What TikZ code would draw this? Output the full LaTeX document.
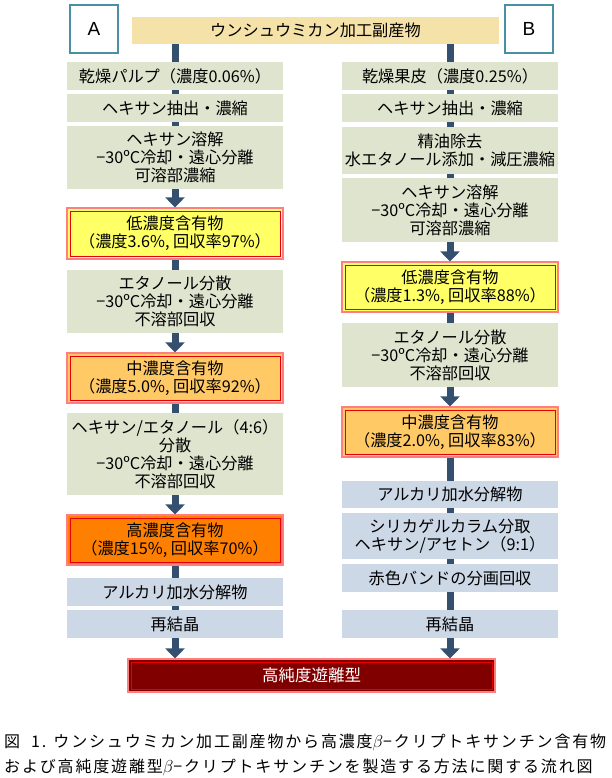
\documentclass[tikz,border=0pt]{standalone}
\usepackage{fontspec}
\newfontfamily\jp{Noto Sans CJK JP}
\newfontfamily\jpcap[LetterSpace=11.5]{Noto Sans CJK JP}
\newfontfamily\lab{Liberation Sans}
\usetikzlibrary{arrows.meta}
\definecolor{gcol}{HTML}{DFE4CF}
\definecolor{bcol}{HTML}{CDD8E7}
\definecolor{tcol}{HTML}{F5E2A8}
\definecolor{acol}{HTML}{35506F}
\definecolor{ycol}{HTML}{FFFF66}
\definecolor{ocol}{HTML}{FFC966}
\definecolor{hcol}{HTML}{FF8000}
\definecolor{fcol}{HTML}{800000}
\definecolor{hlout}{HTML}{FF7F7F}
\definecolor{hlin}{HTML}{E60000}
\definecolor{labcol}{HTML}{4A90A4}
\tikzset{
  box/.style={inner sep=0pt, align=center, font=\jp\fontsize{16.2}{18}\selectfont, text=black, minimum width=216pt},
  gbox/.style={box, fill=gcol},
  bbox/.style={box, fill=bcol},
  hlbox/.style={box, fill=#1, draw=hlout, line width=1.2pt,
    path picture={\draw[hlin, line width=1pt]
      ([shift={(3pt,-3pt)}]path picture bounding box.north west) rectangle ([shift={(-3pt,3pt)}]path picture bounding box.south east);}},
  labbox/.style={draw=labcol, line width=1.5pt, fill=white, minimum width=48pt, minimum height=48pt, inner sep=0pt, font=\lab\fontsize{19}{22}\selectfont},
  conn/.style={draw=acol, line width=7pt},
  arr/.style={conn, -{Triangle[width=19pt,length=10pt]}},
  captxt/.style={anchor=west, inner sep=0pt, font=\jpcap\fontsize{16}{20}\selectfont}
}
\begin{document}
\begin{tikzpicture}[x=1pt,y=-1pt]
\useasboundingbox (0,0) rectangle (612,778);
% top
\node[box, fill=tcol, minimum width=367pt, minimum height=27pt] (top) at (315.5,30.5) {ウンシュウミカン加工副産物};
\node[labbox] (A) at (94,29) {A};
\node[labbox] (B) at (529,29) {B};
% left column
\node[gbox, minimum height=28pt] (a1) at (175,76) {乾燥パルプ（濃度0.06\%）};
\node[gbox, minimum height=28pt] (a2) at (175,108) {ヘキサン抽出・濃縮};
\node[gbox, minimum height=63pt] (a3) at (175,157.5) {ヘキサン溶解\\−30ºC冷却・遠心分離\\可溶部濃縮};
\node[hlbox=ycol, minimum height=51pt] (a4) at (175,233.5) {低濃度含有物\\（濃度3.6\%, 回収率97\%）};
\node[gbox, minimum height=63pt] (a5) at (175,301.5) {エタノール分散\\−30ºC冷却・遠心分離\\不溶部回収};
\node[hlbox=ocol, minimum height=50pt] (a6) at (175,378) {中濃度含有物\\（濃度5.0\%, 回収率92\%）};
\node[gbox, minimum height=82pt] (a7) at (175,454) {ヘキサン/エタノール（4:6）\\分散\\−30ºC冷却・遠心分離\\不溶部回収};
\node[hlbox=hcol, minimum height=50pt] (a8) at (175,540) {高濃度含有物\\（濃度15\%, 回収率70\%）};
\node[bbox, minimum height=28pt] (a9) at (175,592) {アルカリ加水分解物};
\node[bbox, minimum height=28pt] (a10) at (175,624) {再結晶};
% right column
\node[gbox, minimum height=28pt] (b1) at (450,76) {乾燥果皮（濃度0.25\%）};
\node[gbox, minimum height=28pt] (b2) at (450,108) {ヘキサン抽出・濃縮};
\node[gbox, minimum height=47pt] (b3) at (450,150.5) {精油除去\\水エタノール添加・減圧濃縮};
\node[gbox, minimum height=64pt] (b4) at (450,210) {ヘキサン溶解\\−30ºC冷却・遠心分離\\可溶部濃縮};
\node[hlbox=ycol, minimum height=50pt] (b5) at (450,287) {低濃度含有物\\（濃度1.3\%, 回収率88\%）};
\node[gbox, minimum height=64pt] (b6) at (450,355) {エタノール分散\\−30ºC冷却・遠心分離\\不溶部回収};
\node[hlbox=ocol, minimum height=50pt] (b7) at (450,432) {中濃度含有物\\（濃度2.0\%, 回収率83\%）};
\node[bbox, minimum height=27pt] (b8) at (450,494.5) {アルカリ加水分解物};
\node[bbox, minimum height=46pt] (b9) at (450,536) {シリカゲルカラム分取\\ヘキサン/アセトン（9:1）};
\node[bbox, minimum height=28pt] (b10) at (450,578) {赤色バンドの分画回収};
\node[bbox, minimum height=28pt] (b11) at (450,624) {再結晶};
% final
\node[hlbox=fcol, text=white, minimum width=367pt, minimum height=33pt, font=\jp\fontsize{16.5}{18}\selectfont] (fin) at (311.5,675.5) {高純度遊離型};
% connectors left
\draw[conn] (a1.north |- top.south) -- (a1.north);
\draw[conn] (a1) -- (a2);
\draw[conn] (a2) -- (a3);
\draw[arr] (a3) -- (a4);
\draw[conn] (a4) -- (a5);
\draw[arr] (a5) -- (a6);
\draw[conn] (a6) -- (a7);
\draw[arr] (a7) -- (a8);
\draw[conn] (a8) -- (a9);
\draw[conn] (a9) -- (a10);
\draw[arr] (a10.south) -- (a10.south |- fin.north);
% connectors right
\draw[conn] (b1.north |- top.south) -- (b1.north);
\draw[conn] (b1) -- (b2);
\draw[conn] (b2) -- (b3);
\draw[conn] (b3) -- (b4);
\draw[arr] (b4) -- (b5);
\draw[conn] (b5) -- (b6);
\draw[arr] (b6) -- (b7);
\draw[conn] (b7) -- (b8);
\draw[conn] (b8) -- (b9);
\draw[conn] (b9) -- (b10);
\draw[conn] (b10) -- (b11);
\draw[arr] (b11.south) -- (b11.south |- fin.north);
% caption
\node[captxt] (c1) at (4,742) {図\ \ 1. ウンシュウミカン加工副産物から高濃度$\beta$−クリプトキサンチン含有物};
\node[captxt] (c2) at (4,767) {および高純度遊離型$\beta$−クリプトキサンチンを製造する方法に関する流れ図};
\end{tikzpicture}
\end{document}
